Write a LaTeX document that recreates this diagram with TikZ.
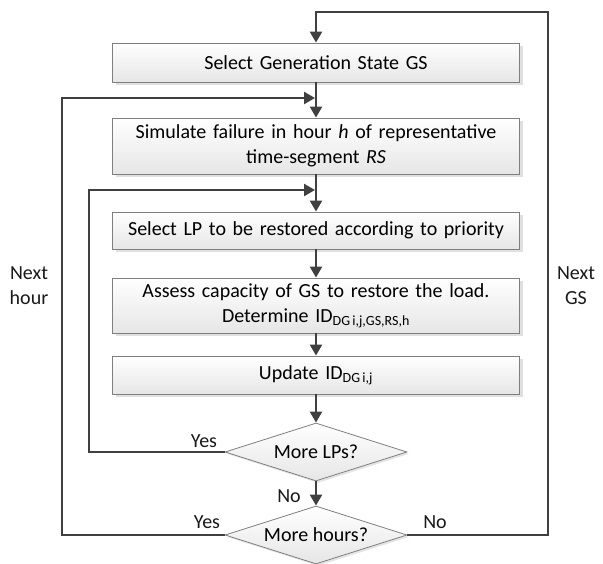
\documentclass[tikz,border=0pt]{standalone}
\usepackage{fontspec}
\setmainfont{Carlito}
\usetikzlibrary{arrows.meta,shapes.geometric,shadows}
\definecolor{linegray}{HTML}{404040}
\definecolor{edgegray}{HTML}{7F7F7F}
\definecolor{boxbot}{HTML}{E6E6E6}

\begin{document}
\begin{tikzpicture}[x=1pt,y=-1pt,
    font=\fontsize{20}{25}\selectfont,
    procbox/.style={draw=edgegray, line width=0.8pt, top color=white, bottom color=boxbot,
      minimum width=407pt, text width=400pt, align=center, inner sep=0pt,
      drop shadow={shadow xshift=3pt, shadow yshift=-3pt, fill=black!12, opacity=1}},
    decide/.style={diamond, aspect=3.1, draw=edgegray, line width=0.8pt, top color=white,
      bottom color=boxbot, minimum width=182pt, minimum height=58pt, inner sep=0pt,
      drop shadow={shadow xshift=2pt, shadow yshift=-2pt, fill=black!10, opacity=1}},
    flow/.style={draw=linegray, line width=2.4pt, -{Triangle[length=11pt,width=12pt]}},
    lbl/.style={text=black!90, inner sep=0pt, align=center}]
  \useasboundingbox (0,0) rectangle (603,563);
  \node[procbox, minimum height=39pt] (gs) at (316,62.5) {Select Generation State GS};
  \node[procbox, minimum height=56pt] (fail) at (316,146) {Simulate failure in hour \textit{h} of representative\\time-segment \textit{RS}};
  \node[procbox, minimum height=37pt] (lp) at (316,230.5) {Select LP to be restored according to priority};
  \node[procbox, minimum height=55pt] (assess) at (316,305.5) {Assess capacity of GS to restore the load.\\Determine ID\textsubscript{DG\,i,j,GS,RS,h}};
  \node[procbox, minimum height=38pt] (upd) at (316,375) {Update ID\textsubscript{DG\,i,j}};
  \node[decide] (morelp) at (316,452) {More LPs?};
  \node[decide] (morehr) at (316,535) {More hours?};

  \coordinate (topR) at (548,12);
  \coordinate (hourL) at (62,98);
  \coordinate (hourIn) at (315,98);
  \coordinate (lpL) at (89,190);
  \coordinate (lpIn) at (315,190);

  \draw[flow] (gs) -- (fail);
  \draw[flow] (fail) -- (lp);
  \draw[flow] (lp) -- (assess);
  \draw[flow] (assess) -- (upd);
  \draw[flow] (upd) -- (morelp);
  \draw[flow] (morelp) -- (morehr);
  \draw[flow] (morelp.west) -| (lpL) -- (lpIn);
  \draw[flow] (morehr.west) -| (hourL) -- (hourIn);
  \draw[flow] (morehr.east) -| (topR) -| (gs.north);

  \node[lbl] (yeslp) at (204,441) {Yes};
  \node[lbl] (nolp) at (289,496) {No};
  \node[lbl] (yeshr) at (207,522) {Yes};
  \node[lbl] (nohr) at (435,522) {No};
  \node[lbl] (nexthr) at (29,286) {Next\\hour};
  \node[lbl] (nextgs) at (576,286) {Next\\GS};
\end{tikzpicture}
\end{document}
